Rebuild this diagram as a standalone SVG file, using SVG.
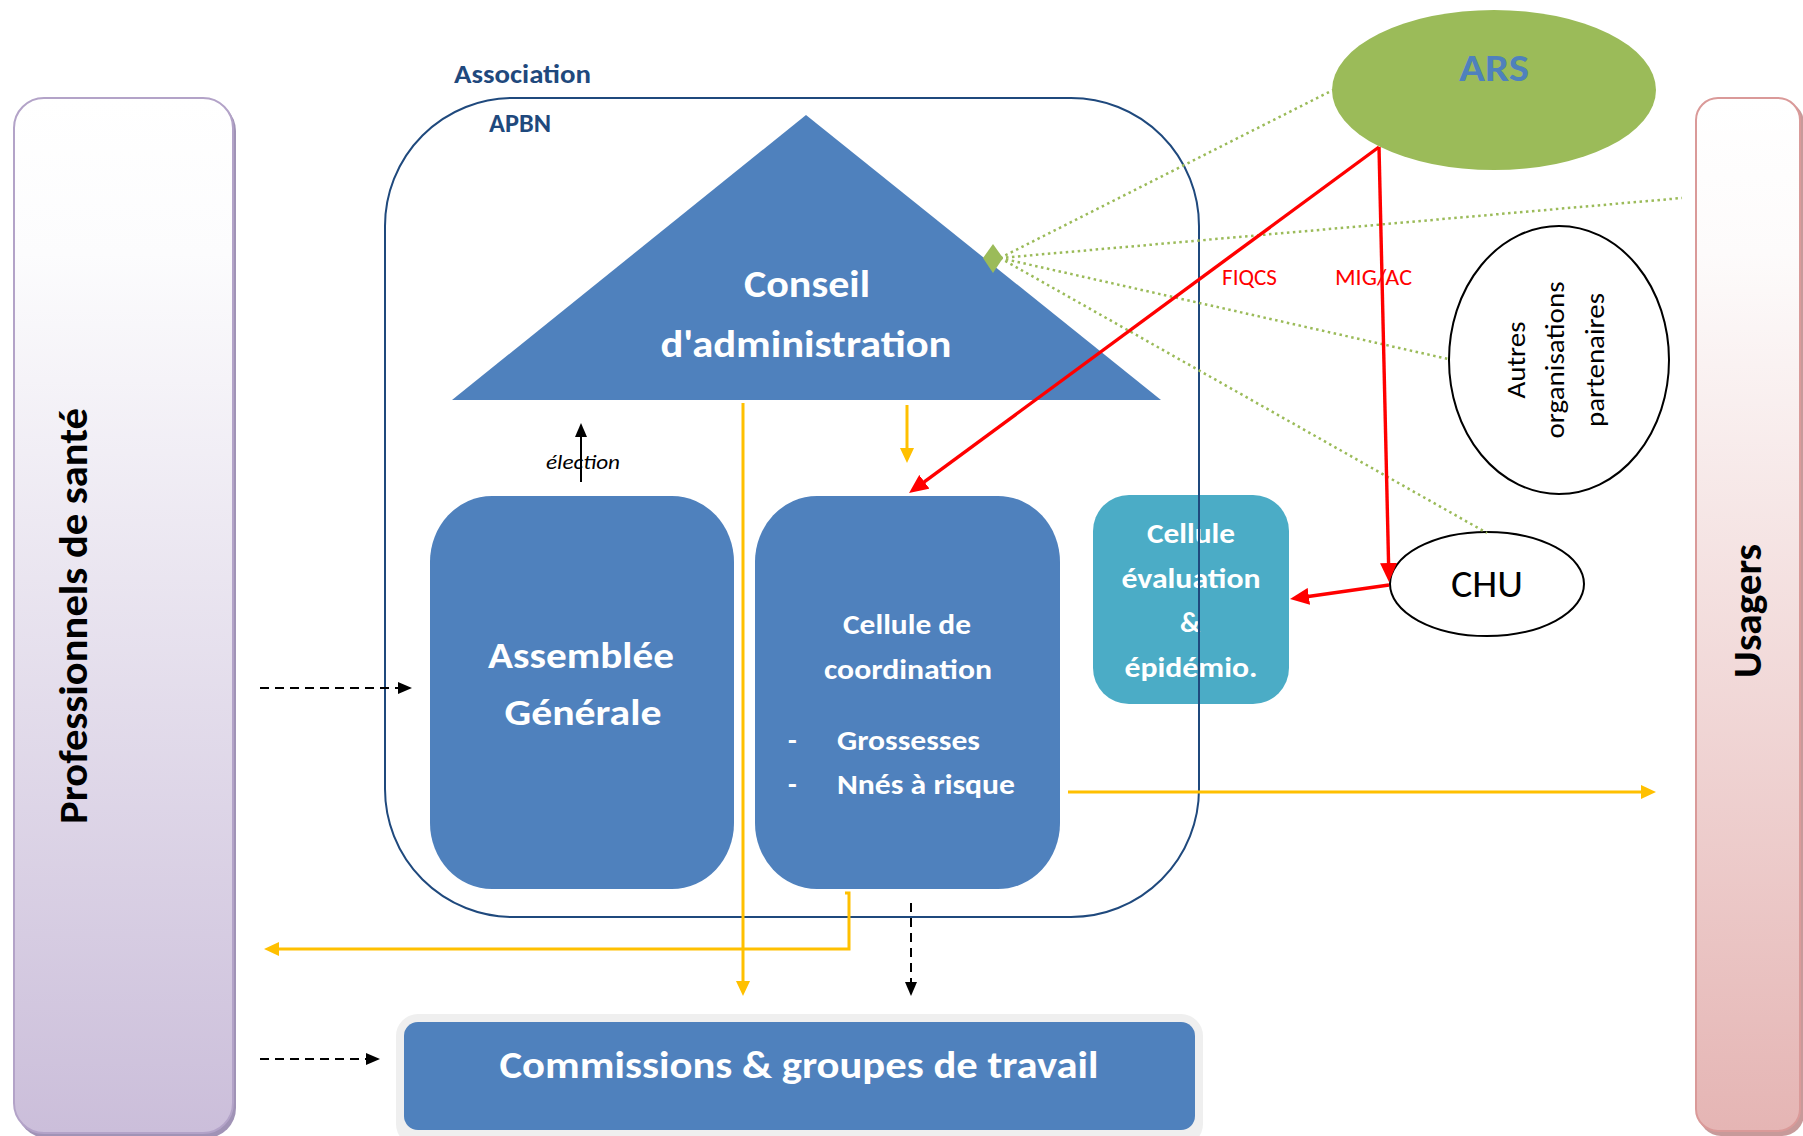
<svg xmlns="http://www.w3.org/2000/svg" width="1803" height="1136" viewBox="0 0 1803 1136">
  <style>
    text { font-family: Carlito, Lato, "Liberation Sans", sans-serif; }
    .white-bold { fill: #FFFFFF; font-weight: bold; }
    .side-label { fill: #000000; font-weight: bold; font-size: 40px; }
    .partner { fill: #000000; font-size: 27px; }
    .funding { fill: #FF0000; font-size: 22px; }
    .assoc-label { fill: #1F497D; font-weight: bold; }
    .blue-box { fill: #4F81BD; }
    .yellow { fill: none; stroke: #FFC000; stroke-width: 3; }
    .red { fill: none; stroke: #FF0000; stroke-width: 3.4; }
    .dashed { fill: none; stroke: #000000; stroke-width: 2; stroke-dasharray: 9 6; }
    .dotted { fill: none; stroke: #9BBB59; stroke-width: 2.5; stroke-dasharray: 2.5 3.5; }
  </style>
  <defs>
    <linearGradient id="grad-pros" x1="0" y1="0" x2="0" y2="1">
      <stop offset="0" stop-color="#FFFFFF"/>
      <stop offset="0.15" stop-color="#FCFCFD"/>
      <stop offset="1" stop-color="#CBBEDA"/>
    </linearGradient>
    <linearGradient id="grad-usagers" x1="0" y1="0" x2="0" y2="1">
      <stop offset="0" stop-color="#FFFFFF"/>
      <stop offset="0.15" stop-color="#FDFBFB"/>
      <stop offset="1" stop-color="#E5B5B4"/>
    </linearGradient>
    <marker id="arrow-yellow" viewBox="0 0 15 14" refX="4" refY="7" markerWidth="15" markerHeight="14" markerUnits="userSpaceOnUse" orient="auto">
      <path d="M0,0 L15,7 L0,14 z" fill="#FFC000"/>
    </marker>
    <marker id="arrow-black" viewBox="0 0 14 12" refX="4" refY="6" markerWidth="14" markerHeight="12" markerUnits="userSpaceOnUse" orient="auto">
      <path d="M0,0 L14,6 L0,12 z" fill="#000000"/>
    </marker>
    <marker id="arrow-red" viewBox="0 0 19 17" refX="6" refY="8.5" markerWidth="19" markerHeight="17" markerUnits="userSpaceOnUse" orient="auto">
      <path d="M0,0 L19,8.5 L0,17 z" fill="#FF0000"/>
    </marker>
  </defs>

  <rect width="1803" height="1136" fill="#FFFFFF"/>

  <!-- left column: health professionals -->
  <g id="professionnels-sante">
    <rect x="17" y="101" width="219" height="1037" rx="30" fill="#A093B6"/>
    <rect x="14" y="98" width="219" height="1035" rx="30" fill="url(#grad-pros)" stroke="#B3A3C8" stroke-width="2"/>
    <text class="side-label" transform="translate(87,616) rotate(-90)" text-anchor="middle" textLength="416" lengthAdjust="spacingAndGlyphs">Professionnels de santé</text>
  </g>

  <!-- right column: users -->
  <g id="usagers">
    <rect x="1699" y="101" width="105" height="1035" rx="22" fill="#C79A9A"/>
    <rect x="1696" y="98" width="104" height="1033" rx="22" fill="url(#grad-usagers)" stroke="#DA9A99" stroke-width="2"/>
    <text class="side-label" transform="translate(1761,611) rotate(-90)" text-anchor="middle" font-size="39" textLength="134" lengthAdjust="spacingAndGlyphs">Usagers</text>
  </g>

  <!-- working groups -->
  <g id="commissions">
    <rect x="396" y="1014" width="807" height="132" rx="22" fill="#EFEFEF"/>
    <rect x="404" y="1022" width="791" height="108" rx="14" class="blue-box"/>
    <text class="white-bold" x="799" y="1078" font-size="39" text-anchor="middle" textLength="599" lengthAdjust="spacingAndGlyphs">Commissions &amp; groupes de travail</text>
  </g>

  <!-- board -->
  <g id="conseil-administration">
    <polygon points="806,115 1161,400 452,400" class="blue-box"/>
    <text class="white-bold" x="807" y="297" font-size="38" text-anchor="middle" textLength="126" lengthAdjust="spacingAndGlyphs">Conseil</text>
    <text class="white-bold" x="806" y="357" font-size="38" text-anchor="middle" textLength="291" lengthAdjust="spacingAndGlyphs">d'administration</text>
  </g>

  <!-- general assembly -->
  <g id="assemblee-generale">
    <rect x="430" y="496" width="304" height="393" rx="62" ry="66" class="blue-box"/>
    <text class="white-bold" x="581" y="668" font-size="37" text-anchor="middle" textLength="186" lengthAdjust="spacingAndGlyphs">Assemblée</text>
    <text class="white-bold" x="583" y="725" font-size="37" text-anchor="middle" textLength="157" lengthAdjust="spacingAndGlyphs">Générale</text>
  </g>

  <!-- coordination unit -->
  <g id="cellule-coordination">
    <rect x="755" y="496" width="305" height="393" rx="62" ry="66" class="blue-box"/>
    <text class="white-bold" x="907" y="634" font-size="28.5" text-anchor="middle" textLength="128" lengthAdjust="spacingAndGlyphs">Cellule de</text>
    <text class="white-bold" x="908" y="679" font-size="28.5" text-anchor="middle" textLength="168" lengthAdjust="spacingAndGlyphs">coordination</text>
    <text class="white-bold" x="788" y="750" font-size="28.5">-</text>
    <text class="white-bold" x="837" y="750" font-size="28.5" textLength="143" lengthAdjust="spacingAndGlyphs">Grossesses</text>
    <text class="white-bold" x="788" y="794" font-size="28.5">-</text>
    <text class="white-bold" x="837" y="794" font-size="28.5" textLength="178" lengthAdjust="spacingAndGlyphs">Nnés à risque</text>
  </g>

  <!-- evaluation unit -->
  <g id="cellule-evaluation">
    <rect x="1093" y="495" width="196" height="209" rx="36" fill="#4BACC6"/>
    <text class="white-bold" x="1191" y="543" font-size="28.5" text-anchor="middle" textLength="88" lengthAdjust="spacingAndGlyphs">Cellule</text>
    <text class="white-bold" x="1191" y="588" font-size="28.5" text-anchor="middle" textLength="139" lengthAdjust="spacingAndGlyphs">évaluation</text>
    <text class="white-bold" x="1190" y="632" font-size="28.5" text-anchor="middle">&amp;</text>
    <text class="white-bold" x="1191" y="677" font-size="28.5" text-anchor="middle" textLength="133" lengthAdjust="spacingAndGlyphs">épidémio.</text>
  </g>

  <!-- association frame (outline drawn over the evaluation unit) -->
  <g id="association-apbn">
    <rect x="385" y="98" width="814" height="819" rx="128" fill="none" stroke="#1F497D" stroke-width="2"/>
    <text class="assoc-label" x="454" y="83" font-size="26" textLength="137" lengthAdjust="spacingAndGlyphs">Association</text>
    <text class="assoc-label" x="489" y="132" font-size="27" textLength="62" lengthAdjust="spacingAndGlyphs">APBN</text>
  </g>

  <!-- regional health agency -->
  <g id="ars">
    <ellipse cx="1494" cy="90" rx="162" ry="80" fill="#9BBB59"/>
    <text x="1494" y="81" font-size="39" font-weight="bold" fill="#4F81BD" text-anchor="middle" textLength="70" lengthAdjust="spacingAndGlyphs">ARS</text>
  </g>

  <!-- other partners -->
  <g id="autres-organisations">
    <ellipse cx="1559" cy="360" rx="110" ry="134" fill="#FFFFFF" stroke="#000000" stroke-width="2"/>
    <text class="partner" transform="translate(1525,360) rotate(-90)" text-anchor="middle" textLength="77" lengthAdjust="spacingAndGlyphs">Autres</text>
    <text class="partner" transform="translate(1564,360) rotate(-90)" text-anchor="middle" textLength="157" lengthAdjust="spacingAndGlyphs">organisations</text>
    <text class="partner" transform="translate(1604,360) rotate(-90)" text-anchor="middle" textLength="134" lengthAdjust="spacingAndGlyphs">partenaires</text>
  </g>

  <!-- university hospital -->
  <g id="chu">
    <ellipse cx="1487" cy="584" rx="97" ry="52" fill="#FFFFFF" stroke="#000000" stroke-width="2"/>
    <text x="1487" y="597" font-size="38" fill="#000000" text-anchor="middle" textLength="72" lengthAdjust="spacingAndGlyphs">CHU</text>
  </g>

  <!-- connectors -->
  <g id="connectors">
    <!-- partnership links converging on the board -->
    <path class="dotted" d="M1000,258 L1333,90"/>
    <path class="dotted" d="M1000,258 L1682,198"/>
    <path class="dotted" d="M1000,258 L1448,359"/>
    <path class="dotted" d="M1000,258 L1487,533"/>
    <polygon points="983,258 993,244 1003,258 993,273" fill="#9BBB59"/>

    <!-- funding flows -->
    <path class="red" d="M1379,147 L919.5,485.3" marker-end="url(#arrow-red)"/>
    <path class="red" d="M1379,147 L1388.7,569" marker-end="url(#arrow-red)"/>
    <path class="red" d="M1389,585 L1302.9,597.2" marker-end="url(#arrow-red)"/>
    <text class="funding" x="1222" y="285" textLength="55" lengthAdjust="spacingAndGlyphs">FIQCS</text>
    <text class="funding" x="1335" y="285" textLength="77" lengthAdjust="spacingAndGlyphs">MIG/AC</text>

    <!-- information flows -->
    <path class="yellow" d="M743,403 V985" marker-end="url(#arrow-yellow)"/>
    <path class="yellow" d="M907,405 V452" marker-end="url(#arrow-yellow)"/>
    <path class="yellow" d="M845,893 H849 V949 H275" marker-end="url(#arrow-yellow)"/>
    <path class="yellow" d="M1068,792 H1645" marker-end="url(#arrow-yellow)"/>

    <!-- membership / participation -->
    <path class="dashed" d="M260,688 H402" marker-end="url(#arrow-black)"/>
    <path class="dashed" d="M260,1059 H370" marker-end="url(#arrow-black)"/>
    <path class="dashed" d="M911,903 V986" marker-end="url(#arrow-black)"/>

    <!-- election of the board -->
    <path d="M581,482 V433" fill="none" stroke="#000000" stroke-width="2" marker-end="url(#arrow-black)"/>
    <text x="583" y="469" font-size="21" font-style="italic" fill="#000000" text-anchor="middle" textLength="74" lengthAdjust="spacingAndGlyphs">élection</text>
  </g>
</svg>
